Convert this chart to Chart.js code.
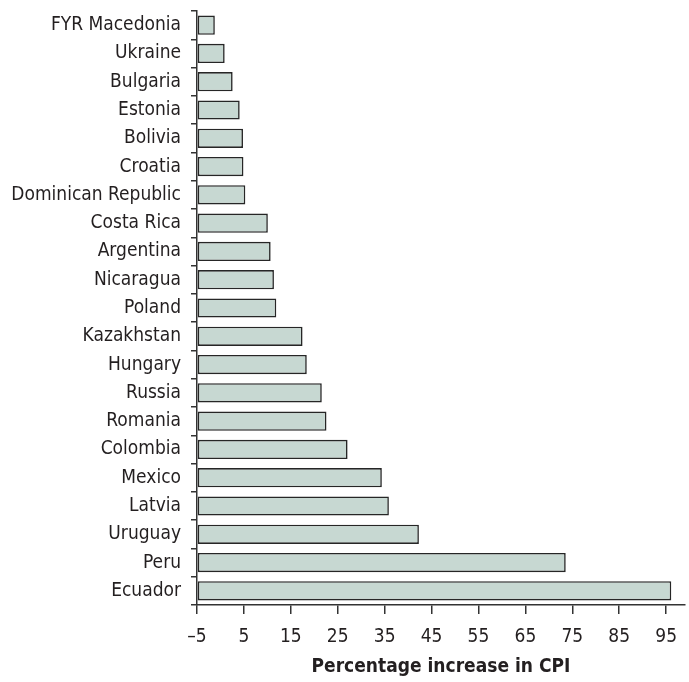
<!DOCTYPE html>
<html>
<head>
<meta charset="utf-8">
<script src="https://cdn.jsdelivr.net/npm/chart.js@4"></script>
<style>
  html, body { margin: 0; padding: 0; background: #fff; }
  #wrap { width: 689px; height: 682px; position: relative; }
</style>
</head>
<body>
<div id="wrap"><canvas id="cpiChart"></canvas></div>
<script>
// ---- data ----
const countries = [
  'FYR Macedonia', 'Ukraine', 'Bulgaria', 'Estonia', 'Bolivia', 'Croatia',
  'Dominican Republic', 'Costa Rica', 'Argentina', 'Nicaragua', 'Poland',
  'Kazakhstan', 'Hungary', 'Russia', 'Romania', 'Colombia', 'Mexico',
  'Latvia', 'Uruguay', 'Peru', 'Ecuador'
];
const cpiIncrease = [
  -1.2, 0.9, 2.6, 4.1, 4.8, 4.9,
  5.3, 10.1, 10.7, 11.4, 11.9,
  17.5, 18.4, 21.6, 22.6, 27.1, 34.4,
  35.9, 42.3, 73.6, 96.1
];
const xTicks = [-5, 5, 15, 25, 35, 45, 55, 65, 75, 85, 95];

const FONT = '"Liberation Sans Narrow", "Arial Narrow", "DejaVu Sans Condensed", sans-serif';
const INK  = '#231f20';

new Chart(document.getElementById('cpiChart'), {
  type: 'bar',
  data: {
    labels: countries,
    datasets: [{
      data: cpiIncrease,
      base: -5,
      backgroundColor: '#c7d8d2',
      borderColor: '#262626',
      borderWidth: 1.6,
      borderSkipped: false,
      categoryPercentage: 1,
      barPercentage: 0.68,
    }],
  },
  options: {
    indexAxis: 'y',
    responsive: true,
    maintainAspectRatio: false,
    animation: false,
    layout: { padding: { top: 11, right: 0, left: 0, bottom: 0 } },
    plugins: { legend: { display: false }, tooltip: { enabled: false } },
    scales: {
      x: {
        min: -5, max: 99,
        afterBuildTicks: s => { s.ticks = xTicks.map(v => ({ value: v })); },
        afterFit: s => { s.height = 77; },
        ticks: {
          color: INK, padding: 12,
          font: { family: FONT, size: 19 },
          callback: v => v < 0 ? '\u2013' + Math.abs(v) : String(v),
        },
        grid: { drawOnChartArea: false, tickLength: 9, color: '#333', lineWidth: 1.5 },
        border: { color: '#333', width: 1.5 },
        title: {
          display: true, text: 'Percentage increase in CPI', color: INK,
          font: { family: FONT, size: 19, weight: 'bold' },
          padding: { top: 0, bottom: 4 },
        },
      },
      y: {
        afterFit: s => { s.width = 197; s.paddingTop = 0; s.paddingBottom = 0; },
        ticks: { color: INK, padding: 10, autoSkip: false, font: { family: FONT, size: 19 } },
        grid: { offset: true, drawOnChartArea: false, tickLength: 6, color: '#333', lineWidth: 1.5 },
        border: { color: '#333', width: 1.5 },
      },
    },
  },
});
</script>
</body>
</html>
